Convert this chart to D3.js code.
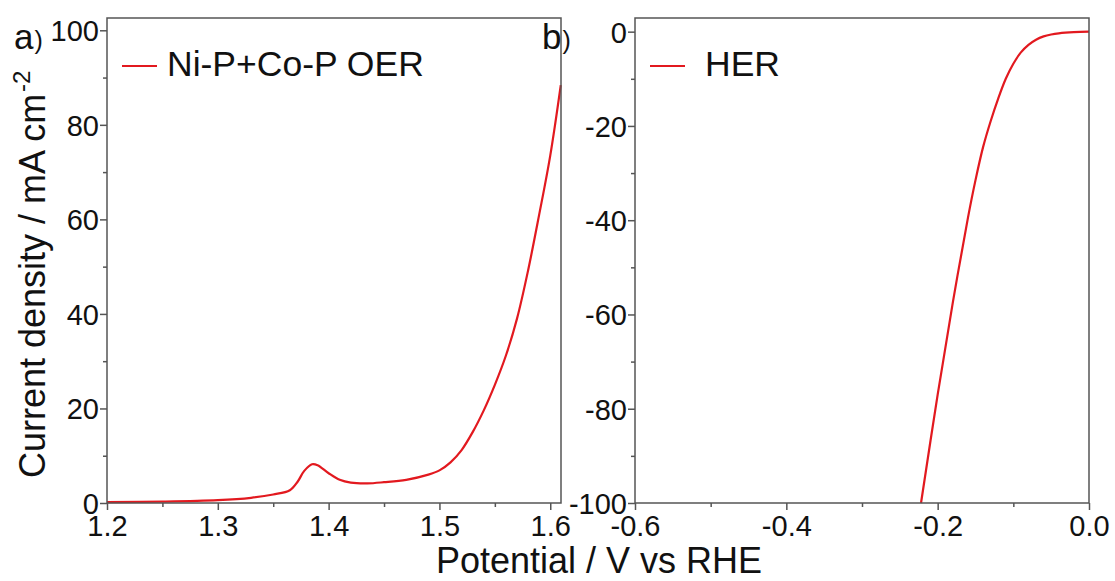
<!DOCTYPE html>
<html lang="en">
<head>
  <meta charset="UTF-8" />
  <title>OER / HER polarization curves</title>
  <style>
    body {
      margin: 0;
      background: #fff;
      font-family: 'Liberation Sans', Arial, sans-serif;
    }
    .axis path, .axis line { stroke: #555; stroke-width: 1.5; }
    .axis text { font-size: 29px; fill: #111; font-family: 'Liberation Sans', Arial, sans-serif; }
    .frame { fill: none; stroke: #555; stroke-width: 1.5; }
  </style>
</head>
<body>
  <svg id="chart" width="1115" height="581"></svg>

  <script src="https://d3js.org/d3.v7.min.js"></script>
  <script>
    // panel a: OER, potential (V vs RHE) and current density (mA cm-2)
    const oerV = [1.20, 1.25, 1.30, 1.33, 1.35, 1.365, 1.372, 1.378, 1.385, 1.39, 1.40, 1.41, 1.42,
                  1.435, 1.45, 1.47, 1.49, 1.50, 1.51, 1.52, 1.53, 1.54, 1.55, 1.56, 1.57,
                  1.58, 1.59, 1.60, 1.6095];
    const oerJ = [0.2, 0.3, 0.6, 1.1, 1.8, 2.7, 4.5, 6.8, 8.2, 8.0, 6.3, 4.9, 4.3,
                  4.15, 4.4, 4.9, 6.0, 6.9, 8.6, 11.2, 15.0, 19.6, 25.0, 31.2, 39.0,
                  49.2, 61.0, 73.5, 88.4];

    // panel b: HER
    const herV = [-0.222, -0.20, -0.18, -0.16, -0.15, -0.14, -0.13, -0.12, -0.11, -0.10,
                  -0.09, -0.08, -0.07, -0.06, -0.05, -0.04, -0.02, 0];
    const herJ = [-100, -77, -57.5, -39.5, -31.5, -24.5, -19, -14.2, -10, -6.8,
                  -4.4, -2.8, -1.7, -1.0, -0.6, -0.35, -0.1, 0];

    const aXTicks = [1.2, 1.3, 1.4, 1.5, 1.6];
    const aXMinor = [1.25, 1.35, 1.45, 1.55];
    const aYTicks = [0, 20, 40, 60, 80, 100];
    const aYMinor = [10, 30, 50, 70, 90];
    const bXTicks = [-0.6, -0.4, -0.2, 0.0];
    const bXMinor = [-0.5, -0.3, -0.1];
    const bYTicks = [0, -20, -40, -60, -80, -100];
    const bYMinor = [-10, -30, -50, -70, -90];

    const svg = d3.select("#chart");
    const red = "#e2191f";
    const minus = s => s.replace("−", "-");

    function panel(opt) {
      const x = d3.scaleLinear().domain(opt.xDomain).range([opt.left, opt.right]);
      const y = d3.scaleLinear().domain(opt.yDomain).range([503, 18]);

      // minor ticks first
      svg.append("g").attr("class", "axis")
        .attr("transform", "translate(0,503)")
        .call(d3.axisBottom(x).tickValues(opt.xMinor).tickSize(4).tickSizeOuter(0).tickFormat(""))
        .select(".domain").remove();
      svg.append("g").attr("class", "axis")
        .attr("transform", `translate(${opt.left},0)`)
        .call(d3.axisLeft(y).tickValues(opt.yMinor).tickSize(4).tickSizeOuter(0).tickFormat(""))
        .select(".domain").remove();

      svg.append("g").attr("class", "axis")
        .attr("transform", "translate(0,503)")
        .call(d3.axisBottom(x).tickValues(opt.xTicks).tickSize(7).tickSizeOuter(0)
          .tickFormat(d => minus(d3.format(".1f")(d))))
        .call(g => g.select(".domain").remove())
        .call(g => g.selectAll("text").attr("y", 12).attr("dy", "0.71em"));
      svg.append("g").attr("class", "axis")
        .attr("transform", `translate(${opt.left},0)`)
        .call(d3.axisLeft(y).tickValues(opt.yTicks).tickSize(7).tickSizeOuter(0)
          .tickFormat(d => minus(d3.format("d")(d))))
        .call(g => g.select(".domain").remove())
        .call(g => g.selectAll("text").attr("x", -8).attr("dy", "0.36em"));

      const line = d3.line()
        .x(d => x(d[0]))
        .y(d => y(d[1]))
        .curve(d3.curveCatmullRom.alpha(0.5));

      svg.append("path")
        .datum(d3.zip(opt.xs, opt.ys))
        .attr("fill", "none")
        .attr("stroke", red)
        .attr("stroke-width", 2.2)
        .attr("d", line);

      svg.append("rect").attr("class", "frame")
        .attr("x", opt.left).attr("y", 18)
        .attr("width", opt.right - opt.left).attr("height", 503 - 18);

      // legend
      svg.append("line")
        .attr("x1", opt.left + 15).attr("x2", opt.left + 50)
        .attr("y1", 66).attr("y2", 66)
        .attr("stroke", red).attr("stroke-width", 2.2);
      svg.append("text")
        .attr("x", opt.left + opt.legendGap).attr("y", 76)
        .attr("font-size", 35.5)
        .attr("fill", "#111")
        .text(opt.legend);

      // panel letter
      const lab = svg.append("text")
        .attr("x", opt.left - 93).attr("y", 49)
        .attr("font-size", 35).attr("fill", "#111");
      lab.append("tspan").text(opt.letter);
      lab.append("tspan").attr("font-size", 25).attr("dx", 1).text(")");
    }

    panel({
      left: 107, right: 561,
      xDomain: [1.2, 1.6097], yDomain: [0, 102.6],
      xTicks: aXTicks, xMinor: aXMinor, yTicks: aYTicks, yMinor: aYMinor,
      xs: oerV, ys: oerJ,
      legend: "Ni-P+Co-P OER", letter: "a", legendGap: 60
    });

    panel({
      left: 635, right: 1089,
      xDomain: [-0.6, 0], yDomain: [-100, 2.9],
      xTicks: bXTicks, xMinor: bXMinor, yTicks: bYTicks, yMinor: bYMinor,
      xs: herV, ys: herJ,
      legend: "HER", letter: "b", legendGap: 70
    });

    // axis titles
    svg.append("text")
      .attr("x", 599).attr("y", 573)
      .attr("text-anchor", "middle")
      .attr("font-size", 36).attr("fill", "#111")
      .text("Potential / V vs RHE");

    const yt = svg.append("text")
      .attr("transform", "translate(45,478) rotate(-90)")
      .attr("font-size", 36).attr("fill", "#111");
    yt.append("tspan").text("Current density / mA cm");
    yt.append("tspan").attr("font-size", 24).attr("dx", 2).attr("dy", -15).text("-2");
  </script>
</body>
</html>
